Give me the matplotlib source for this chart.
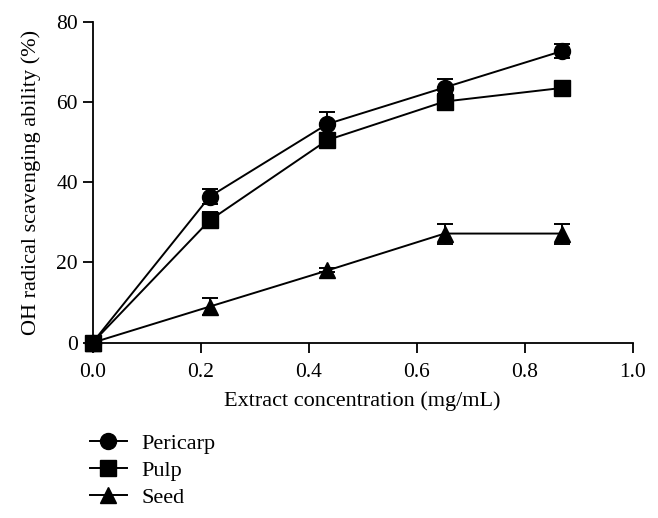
import matplotlib
matplotlib.use("Agg")
import matplotlib.pyplot as plt
from matplotlib.patches import Rectangle
from matplotlib.lines import Line2D

conc = [0.0, 0.217, 0.435, 0.652, 0.870]
pericarp = [0.0, 36.4, 54.5, 63.6, 72.7]
pericarp_err = [0.0, 1.8, 2.9, 2.2, 1.8]
pulp = [0.0, 30.5, 50.5, 60.1, 63.5]
pulp_err = [0.0, 2.0, 1.0, 2.0, 1.0]
seed = [0.0, 9.0, 18.0, 27.2, 27.2]
seed_err = [0.0, 2.1, 0.5, 2.5, 2.5]

series = [("Pericarp", pericarp, pericarp_err, "o"),
          ("Pulp", pulp, pulp_err, "s"),
          ("Seed", seed, seed_err, "^")]

xticks = [0.0, 0.2, 0.4, 0.6, 0.8, 1.0]
yticks = [0, 20, 40, 60, 80]

plt.rcParams['font.family'] = ['Liberation Serif', 'DejaVu Serif']

W, H = 658, 518
fig = plt.figure(figsize=(W / 100, H / 100), dpi=100)
x0, x1, y0, y1 = 92.5, 632.5, 342.7, 21.7
ax = fig.add_axes([x0 / W, 1 - y0 / H, (x1 - x0) / W, (y0 - y1) / H])

handles = []
for name, vals, err, mk in series:
    ms = 11.5 if mk != "^" else 12
    eb = ax.errorbar(conc, vals, yerr=err, color='black', marker=mk,
                     markersize=ms, linewidth=1.4,
                     elinewidth=1.4, capsize=5.6, capthick=1.4,
                     clip_on=False, zorder=3)
    for c in eb.lines[1]:
        c.set_clip_on(False)
    for c in eb.lines[2]:
        c.set_clip_on(False)
    handles.append(Line2D([], [], color='black', marker=mk, markersize=ms,
                          linewidth=1.4, label=name))

ax.set_xlim(0, 1.0)
ax.set_ylim(0, 80)
ax.set_xticks(xticks)
ax.set_xticklabels([f"{t:.1f}" for t in xticks])
ax.set_yticks(yticks)
ax.set_yticklabels([str(t) for t in yticks])
for s in ['top', 'right']:
    ax.spines[s].set_visible(False)
for s in ['left', 'bottom']:
    ax.spines[s].set_linewidth(1.3)
ax.tick_params(direction='out', length=7.5, width=1.3, labelsize=15.5)
ax.tick_params(axis='x', pad=7)
ax.tick_params(axis='y', pad=3)
ax.set_xlabel("Extract concentration (mg/mL)", fontsize=16, labelpad=7)
ax.set_ylabel("OH radical scavenging ability (%)", fontsize=16, labelpad=11)

leg = fig.legend(handles=handles, loc='upper left',
                 bbox_to_anchor=(90 / W, 1 - 433 / H),
                 frameon=False, fontsize=16, borderpad=0, borderaxespad=0,
                 handlelength=1.65, handletextpad=0.68, labelspacing=0.3)

fig.add_artist(Rectangle((0, 0), 1, 13 / H, transform=fig.transFigure,
                         facecolor='white', edgecolor='none', zorder=10))

fig.savefig("out.png", dpi=100)
